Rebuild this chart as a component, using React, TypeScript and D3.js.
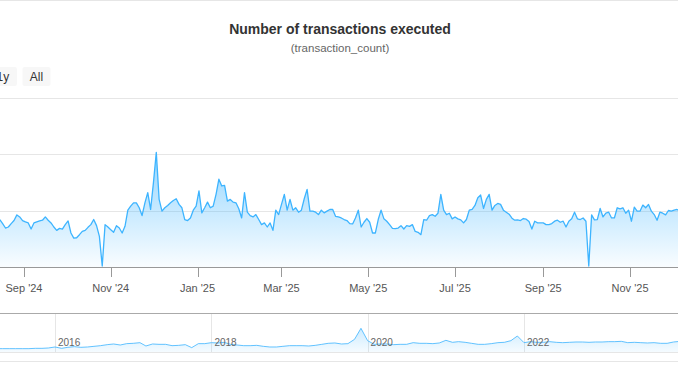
import React from 'react';
import * as d3 from 'd3';

const W = 678;
const H = 381;
const FONT = '"Liberation Sans", Arial, Helvetica, sans-serif';
const TITLE = 'Number of transactions executed';
const SUBTITLE = '(transaction_count)';
const SERIES_COLOR = '#3db4ff';

const txStart = Date.UTC(2024, 7, 15);
const txStepDays = 2;
const txValues = [
  42.0, 38.4, 34.5, 35.4, 38.4, 41.1, 46.1, 44.3, 41.1, 39.9,
  39.0, 33.6, 39.0, 39.9, 40.8, 41.4, 44.3, 41.4, 39.0, 35.4,
  32.4, 34.2, 33.6, 37.5, 40.8, 30.1, 25.6, 25.9, 28.6, 31.5,
  32.4, 35.1, 37.5, 42.0, 36.6, 27.1, 0.9, 37.5, 35.4, 33.0,
  30.7, 36.6, 34.5, 30.1, 36.0, 50.3, 53.9, 56.8, 56.8, 52.4,
  45.5, 56.8, 65.8, 50.9, 74.7, 101.5, 59.8, 49.4, 52.4, 54.5,
  56.8, 58.9, 60.4, 55.4, 52.4, 42.0, 41.1, 43.4, 50.3, 53.9,
  67.3, 47.9, 52.4, 57.4, 52.4, 53.9, 64.3, 77.7, 71.7, 72.3,
  58.3, 59.8, 57.4, 56.8, 51.5, 43.4, 65.8, 48.5, 45.5, 44.3,
  46.4, 42.0, 37.5, 39.0, 35.4, 39.0, 32.4, 50.3, 46.4, 55.4,
  64.3, 50.3, 59.8, 50.3, 52.4, 48.5, 50.3, 60.4, 68.7, 49.4,
  49.4, 48.5, 46.4, 50.3, 47.9, 49.4, 50.9, 50.9, 44.9, 44.3,
  43.4, 42.0, 41.1, 38.4, 38.1, 43.4, 50.3, 35.4, 39.6, 42.9,
  39.6, 30.1, 30.1, 42.0, 50.3, 42.6, 40.5, 37.5, 34.2, 33.9,
  34.5, 36.6, 33.6, 36.6, 36.0, 37.5, 31.5, 30.7, 28.6, 42.0,
  41.4, 45.5, 46.4, 44.9, 47.6, 64.3, 50.3, 46.4, 47.6, 42.6,
  44.3, 42.6, 41.7, 39.0, 42.0, 50.3, 50.9, 54.5, 61.3, 63.7,
  51.8, 59.8, 64.3, 50.3, 54.5, 56.2, 55.4, 50.3, 48.5, 46.7,
  43.2, 41.4, 41.7, 41.1, 42.9, 42.3, 40.2, 33.6, 40.5, 39.0,
  39.0, 39.0, 37.5, 37.5, 38.4, 40.5, 41.4, 39.6, 40.5, 35.4,
  40.5, 42.6, 48.5, 42.6, 42.0, 43.4, 40.5, 0.9, 46.1, 41.7,
  42.0, 51.8, 44.3, 47.6, 48.5, 43.4, 43.4, 52.4, 51.5, 52.4,
  47.6, 50.3, 40.5, 53.0, 49.4, 49.4, 54.8, 52.4, 55.4, 49.4,
  46.4, 41.4, 48.5, 47.6, 46.1, 50.0, 49.4, 50.3, 50.9, 49.4,
];

// Navigator: monthly series from Jan 2015
const navStartYear = 2015;
const navValues = [
  14.6, 14.6, 14.6, 14.6, 14.6, 14.6, 14.6, 14.6, 14.6, 16.0, 16.0, 17.5,
  21.8, 16.0, 20.4, 23.3, 20.4, 21.8, 24.7, 27.6, 32.0, 34.9, 30.5, 36.4,
  37.8, 40.7, 26.2, 34.9, 33.4, 33.4, 27.6, 29.0, 32.0, 19.0, 36.4, 36.4,
  40.7, 39.3, 42.2, 33.4, 30.5, 27.6, 27.6, 29.0, 24.7, 21.8, 21.8, 24.7,
  27.6, 27.6, 27.6, 26.2, 29.0, 33.4, 37.8, 39.3, 34.9, 36.4, 55.2, 103.2,
  49.5, 33.4, 34.9, 34.9, 32.0, 33.4, 33.4, 40.7, 37.8, 37.8, 36.4, 39.3,
  50.9, 42.2, 45.1, 42.2, 37.8, 33.4, 33.4, 36.4, 40.7, 42.2, 49.5, 69.8,
  40.7, 45.1, 42.2, 42.2, 45.1, 42.2, 40.7, 42.2, 43.6, 43.6, 42.2, 43.6,
  43.6, 45.1, 45.1, 46.5, 40.7, 42.2, 40.7, 39.3, 40.7, 37.8, 37.8, 43.6,
  46.5, 44.0, 42.0, 40.0, 41.0, 43.0, 41.0, 39.0, 36.0, 34.0, 52.0, 60.0,
  50.0, 50.0, 45.0, 46.0, 40.0, 42.0, 38.0, 45.0, 40.0, 37.0, 45.0, 49.0,
];

const yTicks = [0, 50, 100, 150];
const navTickYears = [2016, 2018, 2020, 2022];
const rangeButtons = ['1y', 'All'];

export default function App() {
  const DAY = 86400000;
  const txData = txValues.map((v, i) => ({ date: new Date(txStart + i * txStepDays * DAY), v }));
  const navData = navValues.map((v, i) => ({ date: new Date(Date.UTC(navStartYear, i, 1)), v }));

  const x = d3
    .scaleUtc()
    .domain([new Date(Date.UTC(2024, 7, 15)), new Date(Date.UTC(2025, 11, 5))])
    .range([-0.2, 678.4]);
  const y = d3.scaleLinear().domain([0, 150]).range([267, 97.5]);

  const navX = d3
    .scaleUtc()
    .domain([new Date(Date.UTC(2016, 0, 1)), new Date(Date.UTC(2022, 0, 1))])
    .range([55, 524]);
  const navY = d3.scaleLinear().domain([0, 170]).range([352, 313]);

  const area = d3
    .area<{ date: Date; v: number }>()
    .x((d) => x(d.date))
    .y0(y(0))
    .y1((d) => y(d.v));
  const line = d3
    .line<{ date: Date; v: number }>()
    .x((d) => x(d.date))
    .y((d) => y(d.v));

  const navArea = d3
    .area<{ date: Date; v: number }>()
    .x((d) => navX(d.date))
    .y0(navY(0))
    .y1((d) => navY(d.v));
  const navLine = d3
    .line<{ date: Date; v: number }>()
    .x((d) => navX(d.date))
    .y((d) => navY(d.v));

  const xTicks = x.ticks(d3.utcMonth.every(2) as any);
  const fmt = d3.utcFormat("%b '%y");

  const btnW = 28;
  const btnGap = 5.6;
  const allX = 22.5;

  return (
    <svg
      width={W}
      height={H}
      style={{ position: 'absolute', left: 0, top: 0, display: 'block', fontFamily: FONT }}
    >
      <defs>
        <linearGradient id="mainFill" gradientUnits="userSpaceOnUse" x1="0" y1={y(150)} x2="0" y2={y(0)}>
          <stop offset="0" stopColor={SERIES_COLOR} stopOpacity={0.8} />
          <stop offset="1" stopColor={SERIES_COLOR} stopOpacity={0.03} />
        </linearGradient>
        <linearGradient id="navFill" gradientUnits="userSpaceOnUse" x1="0" y1={navY(170)} x2="0" y2={navY(0)}>
          <stop offset="0" stopColor={SERIES_COLOR} stopOpacity={0.4} />
          <stop offset="1" stopColor={SERIES_COLOR} stopOpacity={0.05} />
        </linearGradient>
      </defs>
      <rect x={0} y={0} width={W} height={H} fill="#ffffff" />
      <line x1={0} x2={W} y1={0.5} y2={0.5} stroke="#e6e6e6" />

      <text x={340} y={34} textAnchor="middle" fontSize={14} fontWeight="bold" fill="#333333">
        {TITLE}
      </text>
      <text x={340} y={51.5} textAnchor="middle" fontSize={11.5} fill="#666666">
        {SUBTITLE}
      </text>

      {rangeButtons.map((b, i) => {
        const bx = allX - (rangeButtons.length - 1 - i) * (btnW + btnGap);
        return (
          <g key={b}>
            <rect x={bx} y={67} width={btnW} height={19} rx={2} fill="#f7f7f7" />
            <text x={bx + btnW / 2} y={81} textAnchor="middle" fontSize={12} fill="#333333">
              {b}
            </text>
          </g>
        );
      })}

      {yTicks.map((t) => (
        <line key={t} x1={0} x2={W} y1={Math.round(y(t)) + 0.5} y2={Math.round(y(t)) + 0.5} stroke="#e6e6e6" />
      ))}

      <path d={area(txData) || ''} fill="url(#mainFill)" />
      <path d={line(txData) || ''} fill="none" stroke={SERIES_COLOR} strokeWidth={1.3} strokeLinejoin="round" />

      <line x1={0} x2={W} y1={267.5} y2={267.5} stroke="#999999" />
      {xTicks.map((t) => {
        const tx = Math.round(x(t)) + 0.5;
        return (
          <g key={+t}>
            <line x1={tx} x2={tx} y1={267} y2={277} stroke="#999999" />
            <text x={x(t)} y={292} textAnchor="middle" fontSize={11} fill="#555555">
              {fmt(t)}
            </text>
          </g>
        );
      })}

      {navTickYears.map((yr) => {
        const gx = Math.round(navX(new Date(Date.UTC(yr, 0, 1)))) + 0.5;
        return <line key={yr} x1={gx} x2={gx} y1={313} y2={352} stroke="#e6e6e6" />;
      })}
      <path d={navArea(navData) || ''} fill="url(#navFill)" />
      <path d={navLine(navData) || ''} fill="none" stroke={SERIES_COLOR} strokeOpacity={0.8} strokeWidth={1} />
      {navTickYears.map((yr) => (
        <text
          key={'l' + yr}
          x={navX(new Date(Date.UTC(yr, 0, 1))) + 3}
          y={346}
          fontSize={10}
          fill="#666666"
        >
          {yr}
        </text>
      ))}
      <line x1={0} x2={W} y1={313.5} y2={313.5} stroke="#aaaaaa" />
      <line x1={0} x2={W} y1={352.5} y2={352.5} stroke="#e6e6e6" />
      <line x1={0} x2={W} y1={361.5} y2={361.5} stroke="#e6e6e6" />
    </svg>
  );
}
